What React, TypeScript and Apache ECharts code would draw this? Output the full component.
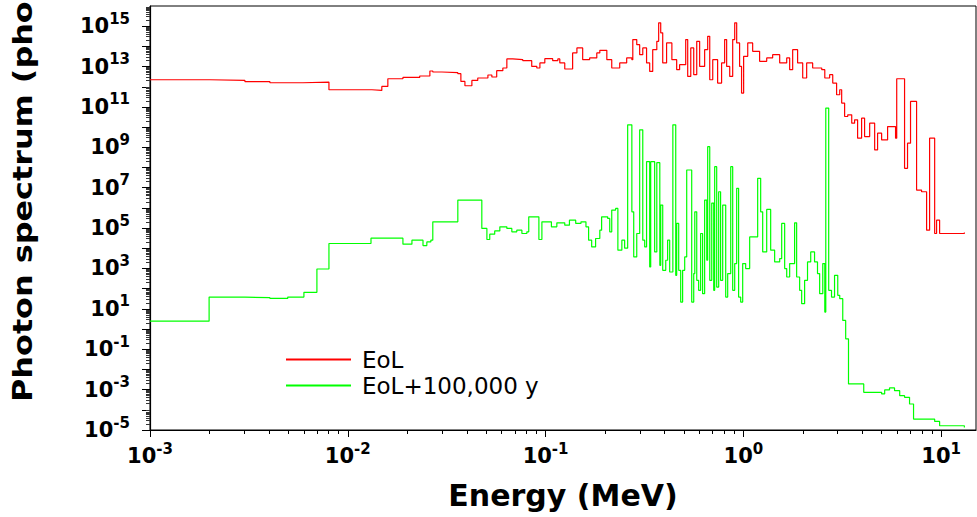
import React, { useEffect, useRef } from "react";
import * as echarts from "echarts";

// ---- Data (energy in MeV, photon spectrum values) ----
const EOL_ENERGY_MEV = [
  0.001, 0.00201, 0.00302, 0.00404, 0.00593, 0.00803, 0.01324, 0.01486, 0.01594, 0.019,
  0.0231, 0.026, 0.0269, 0.0299, 0.036, 0.0373, 0.0391, 0.0424, 0.0454, 0.0511,
  0.0535, 0.0566, 0.0608, 0.0637, 0.0682, 0.0767, 0.0851, 0.0903, 0.0936, 0.0991,
  0.1086, 0.1153, 0.118, 0.125, 0.137, 0.144, 0.154, 0.167, 0.1815, 0.188,
  0.204, 0.216, 0.237, 0.257, 0.273, 0.276, 0.289, 0.299, 0.31, 0.324,
  0.336, 0.348, 0.365, 0.373, 0.382, 0.391, 0.409, 0.435, 0.46, 0.476,
  0.511, 0.523, 0.542, 0.561, 0.581, 0.601, 0.637, 0.66, 0.676, 0.7,
  0.741, 0.776, 0.804, 0.823, 0.853, 0.883, 0.904, 0.925, 0.957, 0.979,
  1.003, 1.052, 1.114, 1.208, 1.312, 1.406, 1.526, 1.656, 1.714, 1.775,
  1.88, 1.995, 2.089, 2.24, 2.49, 2.58, 2.73, 2.83, 2.96, 3.07,
  3.14, 3.25, 3.37, 3.53, 3.65, 3.78, 3.96, 4.1, 4.35, 4.61,
  4.77, 5.0, 5.36, 5.88, 5.96, 6.53, 6.76, 7.0, 7.51, 7.96,
  8.44, 8.74, 9.27, 9.48, 9.82, 13.1,
];
const EOL_PHOTONS = [
  2.23e12, 2.06e12, 1.78e12, 1.58e12, 1.71e12, 7.11e11, 6.56e11, 1.04e12, 2.5e12, 2.9e12,
  3.41e12, 6.04e12, 5.38e12, 4.97e12, 4.44e12, 1.84e12, 1.12e12, 2.06e12, 2.71e12, 3.82e12,
  3.04e12, 6.25e12, 8.51e12, 2.38e13, 2.2e13, 1.96e13, 1.02e13, 8.51e12, 1.51e13, 2.47e13,
  1.96e13, 2.38e13, 1.51e13, 7.59e12, 4.73e13, 8.38e13, 2.2e13, 2.67e13, 4.73e13, 6.37e13,
  2.2e13, 8.51e12, 1.51e13, 2.67e13, 2.2e13, 2.17e14, 1.22e14, 3.9e13, 8.38e13, 1.51e13,
  5.77e12, 6.9e13, 1.78e14, 1.46e15, 4.67e14, 1.51e13, 1.49e14, 2.2e13, 7.01e12, 1.24e13,
  2.17e14, 3.26e12, 8.38e13, 3.95e12, 1.78e14, 1.02e13, 6.9e13, 3.16e14, 2.23e12, 2.2e13,
  1.53e12, 1.51e13, 2.17e14, 1.02e13, 3.26e12, 2.17e14, 1.46e15, 1.49e14, 1.02e13, 4.88e11,
  3.21e13, 1.49e14, 5.69e13, 1.81e13, 2.67e13, 3.9e13, 1.51e13, 2.67e13, 7.01e12, 6.9e13,
  1.51e13, 2.71e12, 1.51e13, 8.51e12, 7.01e12, 2.71e12, 3.95e12, 1.53e12, 4.02e11, 7.11e11,
  1.55e11, 3.36e10, 4.07e10, 1.58e10, 2.3e10, 2.84e9, 2.79e10, 3.4e9, 1.58e10, 7.43e8,
  5.02e9, 2.33e9, 1.07e10, 2.84e9, 2.5e12, 9.16e7, 1.6e9, 1.87e11, 7.66e6, 6.31e6,
  7.89e4, 2.84e9, 5.41e4, 2.48e5, 5.41e4, 6.07e4,
];

const EOL100K_ENERGY_MEV = [
  0.001, 0.00199, 0.00302, 0.00404, 0.00497, 0.006, 0.00698, 0.00803, 0.0131, 0.019,
  0.0211, 0.024, 0.0251, 0.0263, 0.0269, 0.036, 0.0476, 0.0505, 0.0522, 0.0553,
  0.0587, 0.0637, 0.0675, 0.0715, 0.0759, 0.0804, 0.0822, 0.0925, 0.0958, 0.107,
  0.114, 0.125, 0.132, 0.142, 0.151, 0.16, 0.165, 0.171, 0.179, 0.188,
  0.192, 0.206, 0.211, 0.216, 0.226, 0.232, 0.243, 0.251, 0.26, 0.273,
  0.279, 0.289, 0.299, 0.31, 0.317, 0.324, 0.336, 0.34, 0.356, 0.365,
  0.378, 0.382, 0.391, 0.405, 0.414, 0.424, 0.44, 0.455, 0.46, 0.471,
  0.482, 0.493, 0.505, 0.517, 0.548, 0.561, 0.568, 0.581, 0.594, 0.608,
  0.622, 0.637, 0.653, 0.66, 0.676, 0.692, 0.708, 0.716, 0.733, 0.75,
  0.767, 0.786, 0.814, 0.833, 0.863, 0.883, 0.904, 0.925, 0.946, 0.969,
  0.992, 1.027, 1.076, 1.181, 1.223, 1.252, 1.312, 1.374, 1.439, 1.526,
  1.562, 1.617, 1.656, 1.714, 1.816, 1.859, 1.925, 1.971, 2.04, 2.11,
  2.19, 2.29, 2.37, 2.43, 2.52, 2.58, 2.61, 2.7, 2.79, 2.89,
  3.0, 3.07, 3.18, 3.29, 3.4, 4.06, 5.0, 5.18, 5.48, 5.81,
  6.17, 6.53, 6.92, 7.25, 9.27, 9.82, 13.1,
];
const EOL100K_PHOTONS = [
  2.46, 38.4, 35.8, 33.0, 38.4, 65.6, 944, 1.73e4, 3.16e4, 1.59e4,
  2.51e4, 1.37e4, 2.07e4, 2.51e4, 2.04e5, 2.44e6, 9.59e4, 2.72e4, 5.0e4, 7.28e4,
  1.15e5, 9.59e4, 6.5e4, 7.89e4, 5.41e4, 6.5e4, 3.61e5, 2.72e4, 2.04e5, 1.15e5,
  1.82e5, 1.4e5, 2.48e5, 1.7e5, 2.04e5, 1.15e5, 2.51e4, 1.17e4, 3.05e4, 7.89e4,
  3.61e5, 3.01e5, 6.5e4, 7.78e5, 9.44e5, 8.02e3, 2.51e4, 1.01e4, 1.3e10, 6.4e5,
  3.72e3, 5.41e4, 7.33e9, 2.51e4, 1.17e4, 1.95e8, 1.19e3, 1.95e8, 6.59e3, 1.74e8,
  1.44e3, 1.38e6, 813, 2.55e3, 2.51e4, 670, 1.3e10, 459, 1.7e5, 813,
  21.6, 813, 3.72e3, 7.55e7, 21.6, 557, 6.4e5, 259, 82.6, 5.41e4,
  56.6, 2.44e6, 2.55e3, 1.08e9, 259, 1.73e6, 82.6, 1.1e8, 120, 6.31e6,
  259, 1.38e6, 38.4, 557, 1.1e8, 82.6, 1.75e3, 9.31e6, 38.4, 21.6,
  1.75e3, 986, 3.66e4, 2.92e7, 6.4e5, 6.59e3, 8.41e5, 8.02e3, 2.1e3, 3.1e3,
  1.7e5, 986, 378, 1.75e3, 1.82e5, 378, 82.6, 18.0, 259, 2.1e3,
  6.59e3, 2.1e3, 557, 56.6, 1.75e3, 6.9, 8.77e10, 82.6, 38.4, 459,
  46.6, 31.9, 2.67, 0.329, 0.00191, 7.31e-4, 6.1e-4, 9.64e-4, 1.21e-3, 8.89e-4,
  5.01e-4, 4.13e-4, 1.94e-4, 3.49e-5, 2.65e-5, 1.62e-5, 1.34e-5,
];

const SERIES_NAMES = ["EoL", "EoL+100,000 y"];
const SERIES_COLORS = ["#ff0000", "#00ff00"];

// Axis ranges and tick decades (exponents of 10)
const X_MIN_MEV = 0.001;
const X_MAX_MEV = 15;
const Y_MIN = 1e-5;
const Y_MAX = 1e16;
const X_DECADES = [-3, -2, -1, 0, 1];
const Y_DECADES = [-5, -4, -3, -2, -1, 0, 1, 2, 3, 4, 5, 6, 7, 8, 9, 10, 11, 12, 13, 14, 15];
const Y_LABEL_EXPONENTS = [-5, -3, -1, 1, 3, 5, 7, 9, 11, 13, 15];
const MINOR_MULTIPLIERS = [2, 3, 4, 5, 6, 7, 8, 9];

const X_TITLE = "Energy (MeV)";
const Y_TITLE = "Photon spectrum (pho";

const FONT = "DejaVu Sans";

function toLogPairs(xs: number[], ys: number[]) {
  return xs.map((x, i) => [Math.log10(x), Math.log10(ys[i])]);
}

function minorTicks(decades: number[], maxLog: number) {
  const out: number[] = [];
  decades.forEach((d) => {
    MINOR_MULTIPLIERS.forEach((m) => {
      const v = d + Math.log10(m);
      if (v < maxLog) out.push(v);
    });
  });
  return out;
}

const powLabel = (v: number) => `{b|10}{s|${Math.round(v)}}`;
const powRich = {
  b: { fontFamily: FONT, fontWeight: "bold", fontSize: 21, lineHeight: 30, color: "#000", verticalAlign: "middle" },
  s: { fontFamily: FONT, fontWeight: "bold", fontSize: 15, lineHeight: 12, color: "#000", verticalAlign: "top" },
};

export default function App() {
  const ref = useRef<HTMLDivElement>(null);

  useEffect(() => {
    if (!ref.current) return;
    const chart = echarts.init(ref.current, null, { renderer: "svg" });
    const xMin = Math.log10(X_MIN_MEV);
    const xMax = Math.log10(X_MAX_MEV);
    const yMin = Math.log10(Y_MIN);
    const yMax = Math.log10(Y_MAX);

    const option: any = {
      animation: false,
      backgroundColor: "#ffffff",
      grid: {
        left: 150,
        right: 1,
        top: 6,
        bottom: 87,
        show: true,
        borderColor: "#000",
        borderWidth: 1,
        containLabel: false,
      },
      legend: {
        orient: "vertical",
        left: 285,
        top: 348,
        padding: 0,
        itemWidth: 65,
        itemHeight: 14,
        itemGap: 3,
        data: SERIES_NAMES,
        itemStyle: { color: "rgba(0,0,0,0)", borderColor: "rgba(0,0,0,0)", borderWidth: 0, opacity: 0 },
        textStyle: { fontFamily: FONT, fontSize: 23, color: "#000", padding: [0, 0, 0, 6] },
      },
      xAxis: [
        {
          type: "value",
          min: xMin,
          max: xMax,
          position: "bottom",
          name: X_TITLE,
          nameLocation: "middle",
          nameGap: 50,
          nameTextStyle: { fontFamily: FONT, fontWeight: "bold", fontSize: 30, color: "#000" },
          axisLine: { show: true, onZero: false, lineStyle: { color: "#000", width: 1.2 } },
          axisTick: { show: true, inside: false, length: 7, customValues: X_DECADES, lineStyle: { color: "#000", width: 1 } },
          axisLabel: { show: true, margin: 11, customValues: X_DECADES, formatter: powLabel, rich: powRich },
          splitLine: { show: false },
        },
        {
          type: "value",
          min: xMin,
          max: xMax,
          position: "bottom",
          axisLine: { show: false, onZero: false },
          axisTick: { show: true, inside: false, length: 4, customValues: minorTicks(X_DECADES, xMax), lineStyle: { color: "#000", width: 1 } },
          axisLabel: { show: false },
          splitLine: { show: false },
        },
      ],
      yAxis: [
        {
          type: "value",
          min: yMin,
          max: yMax,
          position: "left",
          axisLine: { show: true, onZero: false, lineStyle: { color: "#000", width: 1.2 } },
          axisTick: { show: true, inside: false, length: 8, customValues: Y_DECADES, lineStyle: { color: "#000", width: 1 } },
          axisLabel: { show: true, margin: 20, customValues: Y_LABEL_EXPONENTS, formatter: powLabel, rich: powRich },
          splitLine: { show: false },
        },
        {
          type: "value",
          min: yMin,
          max: yMax,
          position: "left",
          axisLine: { show: false, onZero: false },
          axisTick: { show: true, inside: false, length: 4, customValues: minorTicks(Y_DECADES, yMax), lineStyle: { color: "#333", width: 1 } },
          axisLabel: { show: false },
          splitLine: { show: false },
        },
      ],
      graphic: [
        {
          type: "text",
          x: 23,
          y: 402,
          rotation: Math.PI / 2,
          scaleX: 1.18,
          style: {
            text: Y_TITLE,
            fontFamily: FONT,
            fontWeight: "bold",
            fontSize: 27,
            fill: "#000",
            align: "left",
            verticalAlign: "middle",
          },
        },
      ],
      series: [
        {
          name: SERIES_NAMES[0],
          type: "line",
          step: "end",
          symbol: "none",
          showSymbol: false,
          xAxisIndex: 0,
          yAxisIndex: 0,
          data: toLogPairs(EOL_ENERGY_MEV, EOL_PHOTONS),
          lineStyle: { color: SERIES_COLORS[0], width: 1.2 },
          itemStyle: { color: SERIES_COLORS[0] },
        },
        {
          name: SERIES_NAMES[1],
          type: "line",
          step: "end",
          symbol: "none",
          showSymbol: false,
          xAxisIndex: 0,
          yAxisIndex: 0,
          data: toLogPairs(EOL100K_ENERGY_MEV, EOL100K_PHOTONS),
          lineStyle: { color: SERIES_COLORS[1], width: 1.2 },
          itemStyle: { color: SERIES_COLORS[1] },
        },
      ],
    };

    chart.setOption(option);
    return () => chart.dispose();
  }, []);

  return (
    <div
      ref={ref}
      style={{ position: "fixed", left: 0, top: 0, width: 977, height: 517, background: "#fff" }}
    />
  );
}
